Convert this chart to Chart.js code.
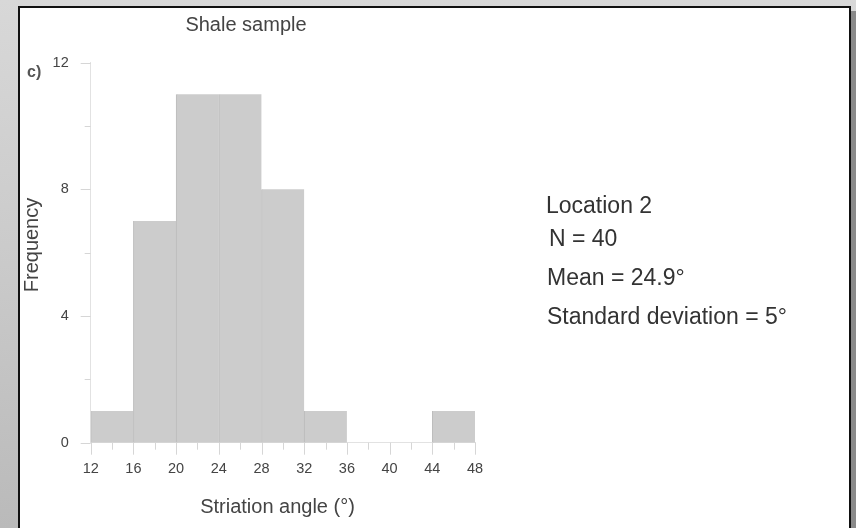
<!DOCTYPE html>
<html>
<head>
<meta charset="utf-8">
<script src="https://cdn.jsdelivr.net/npm/chart.js@4/dist/chart.umd.min.js"></script>
<style>
  html, body { margin: 0; padding: 0; width: 856px; height: 528px; overflow: hidden; }
  body {
    position: relative;
    background: linear-gradient(to bottom, #d8d8d8 0%, #cacaca 50%, #bababa 100%);
  }
  #panel {
    position: absolute; left: 18px; top: 6px;
    width: 833px; height: 600px; box-sizing: border-box;
    border: 2px solid #111; background: #fff;
    box-shadow: 5px 5px 0 #8a8a8a;
  }
  #chart { position: absolute; left: 0; top: 0; }
</style>
</head>
<body>
<div id="panel"></div>
<canvas id="chart" width="856" height="528"></canvas>
<script>
// Histogram of striation angles, 4° bins from 12° to 48°
const binCenters   = [14, 18, 22, 26, 30, 34, 38, 42, 46];
const frequencies  = [1, 7, 11, 11, 8, 1, 0, 0, 1];
const angleRange   = [12, 48];
const freqRange    = [0, 12];

const chartTitle   = 'Shale sample';
const panelTag     = 'c)';
const xAxisTitle   = 'Striation angle (°)';
const yAxisTitle   = 'Frequency';
const statLines    = ['Location 2', 'N = 40', 'Mean = 24.9°', 'Standard deviation = 5°'];

const FONT = '"Liberation Sans", Arial, Helvetica, sans-serif';

// major ticks come from the scale, minor ticks sit halfway between them
const tickMarks = {
  id: 'tickMarks',
  afterDraw(chart) {
    const { ctx, scales: { x, y } } = chart;
    ctx.save();
    ctx.strokeStyle = '#d6d6d6';
    ctx.lineWidth = 1;
    ctx.beginPath();
    const yt = y.ticks.map(t => t.value);
    yt.forEach((v, i) => {
      const py = Math.round(y.getPixelForValue(v)) + 0.5;
      ctx.moveTo(x.left - 10, py); ctx.lineTo(x.left, py);
      if (i < yt.length - 1) {
        const pm = Math.round(y.getPixelForValue((v + yt[i + 1]) / 2)) + 0.5;
        ctx.moveTo(x.left - 6, pm); ctx.lineTo(x.left, pm);
      }
    });
    const xt = x.ticks.map(t => t.value);
    xt.forEach((v, i) => {
      const px = Math.round(x.getPixelForValue(v)) + 0.5;
      ctx.moveTo(px, y.bottom); ctx.lineTo(px, y.bottom + 12);
      if (i < xt.length - 1) {
        const pm = Math.round(x.getPixelForValue((v + xt[i + 1]) / 2)) + 0.5;
        ctx.moveTo(pm, y.bottom); ctx.lineTo(pm, y.bottom + 7);
      }
    });
    ctx.stroke();
    ctx.restore();
  }
};

// titles, panel tag and the summary statistics block
const chartText = {
  id: 'chartText',
  afterDraw(chart) {
    const { ctx } = chart;
    ctx.save();
    ctx.textBaseline = 'alphabetic';

    ctx.fillStyle = '#444';
    ctx.font = '20px ' + FONT;
    ctx.textAlign = 'center';
    ctx.fillText(chartTitle, 246, 30.5);
    ctx.fillText(xAxisTitle, 277.5, 513);

    ctx.save();
    ctx.translate(37.5, 245);
    ctx.rotate(-Math.PI / 2);
    ctx.fillText(yAxisTitle, 0, 0);
    ctx.restore();

    ctx.textAlign = 'left';
    ctx.font = 'bold 16px ' + FONT;
    ctx.fillStyle = '#555';
    ctx.fillText(panelTag, 27, 77);

    ctx.fillStyle = '#333';
    ctx.font = '23px ' + FONT;
    const xs = [546, 549, 547, 547];
    const ys = [213, 246, 285, 324];
    statLines.forEach((s, i) => ctx.fillText(s, xs[i], ys[i]));
    ctx.restore();
  }
};

new Chart(document.getElementById('chart'), {
  type: 'bar',
  data: {
    datasets: [{
      data: binCenters.map((c, i) => ({ x: c, y: frequencies[i] })),
      backgroundColor: '#cccccc',
      borderColor: '#bcbcbc',
      borderWidth: { left: 1, right: 0, top: 0, bottom: 0 },
      borderSkipped: false,
      barPercentage: 1,
      categoryPercentage: 1
    }]
  },
  options: {
    responsive: false,
    animation: false,
    layout: { padding: { left: 0, top: 62.7, right: 381, bottom: 0 } },
    plugins: { legend: { display: false }, tooltip: { enabled: false }, title: { display: false } },
    scales: {
      x: {
        type: 'linear',
        offset: false,
        min: angleRange[0], max: angleRange[1],
        grid: { display: false, offset: false },
        border: { display: true, color: '#e2e2e2' },
        ticks: { stepSize: 4, padding: 10, color: '#444', font: { family: FONT, size: 14.5 }, maxRotation: 0 },
        afterFit(scale) { scale.height = 528 - 442.7; }
      },
      y: {
        min: freqRange[0], max: freqRange[1],
        grid: { display: false },
        border: { display: true, color: '#e2e2e2' },
        ticks: { stepSize: 4, padding: 14, color: '#444', font: { family: FONT, size: 14.5 } },
        afterFit(scale) { scale.width = 90.7; }
      }
    }
  },
  plugins: [tickMarks, chartText]
});
</script>
</body>
</html>
